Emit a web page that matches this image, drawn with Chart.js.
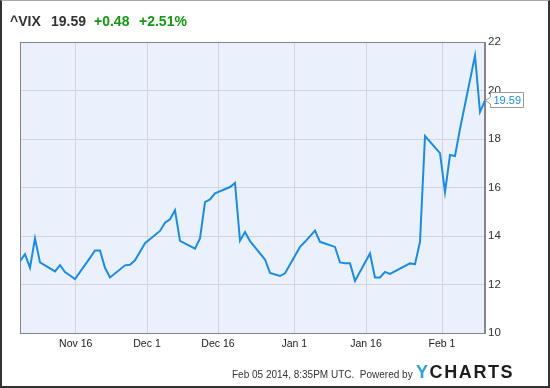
<!DOCTYPE html>
<html>
<head>
<meta charset="utf-8">
<script src="https://cdn.jsdelivr.net/npm/chart.js@4.4.1/dist/chart.umd.min.js"></script>
<style>
  html, body { margin: 0; padding: 0; background: #fff; }
  #wrap { position: relative; width: 550px; height: 388px; overflow: hidden; font-family: "Liberation Sans", Arial, sans-serif; }
  #chart { position: absolute; left: 0; top: 0; }
  #frame { position: absolute; left: 0; top: 0; width: 550px; height: 388px; box-sizing: border-box;
           border-left: 2px solid #333; border-right: 2px solid #333; border-bottom: 2px solid #333; border-top: 1px solid #a8a8a8; pointer-events: none; }
  .t { position: absolute; top: 13px; line-height: 16px; font-size: 14px; font-weight: bold; white-space: nowrap; }
  .dk { color: #333; }
  .gr { color: #139a13; }
  #foot { position: absolute; left: 232px; top: 369px; font-size: 10px; line-height: 12px; color: #333; white-space: nowrap; }
  #logo { position: absolute; left: 416px; top: 361px; font-size: 18px; line-height: 22px; font-weight: bold; letter-spacing: 1.6px; white-space: nowrap; }
  #logo .y { color: #2aa3e0; }
  #logo .c { color: #1e1e1e; }
</style>
</head>
<body>
<div id="wrap">
  <canvas id="chart" width="550" height="388"></canvas>
  <span class="t dk" style="left:10px">^VIX</span>
  <span class="t dk" style="left:51px">19.59</span>
  <span class="t gr" style="left:94px">+0.48</span>
  <span class="t gr" style="left:139px">+2.51%</span>
  <div id="foot">Feb 05 2014, 8:35PM UTC.&nbsp; Powered by</div>
  <div id="logo"><span class="y">Y</span><span class="c">CHARTS</span></div>
  <div id="frame"></div>
</div>
<script>
// ---- data ----
const dates = [
  "2013-11-04","2013-11-05","2013-11-06","2013-11-07","2013-11-08",
  "2013-11-11","2013-11-12","2013-11-13","2013-11-14","2013-11-15",
  "2013-11-18","2013-11-19","2013-11-20","2013-11-21","2013-11-22",
  "2013-11-25","2013-11-26","2013-11-27","2013-11-29",
  "2013-12-02","2013-12-03","2013-12-04","2013-12-05","2013-12-06",
  "2013-12-09","2013-12-10","2013-12-11","2013-12-12","2013-12-13",
  "2013-12-16","2013-12-17","2013-12-18","2013-12-19","2013-12-20",
  "2013-12-23","2013-12-24","2013-12-26","2013-12-27",
  "2013-12-30","2013-12-31","2014-01-02","2014-01-03",
  "2014-01-06","2014-01-07","2014-01-08","2014-01-09","2014-01-10",
  "2014-01-13","2014-01-14","2014-01-15","2014-01-16","2014-01-17",
  "2014-01-21","2014-01-22","2014-01-23","2014-01-24",
  "2014-01-27","2014-01-28","2014-01-29","2014-01-30","2014-01-31",
  "2014-02-03","2014-02-04","2014-02-05"
];
const vixValues = [
  12.96,13.25,12.69,13.90,12.91,
  12.54,12.80,12.51,12.37,12.22,
  13.10,13.40,13.40,12.69,12.29,
  12.79,12.81,13.00,13.70,
  14.21,14.55,14.69,15.06,13.80,
  13.48,13.90,15.40,15.51,15.76,
  16.02,16.19,13.80,14.16,13.79,
  13.03,12.48,12.35,12.46,
  13.55,13.76,14.22,13.76,
  13.55,12.91,12.88,12.88,12.15,
  13.28,12.29,12.29,12.52,12.44,
  12.87,12.84,13.76,18.12,
  17.42,15.81,17.34,17.30,18.41,
  21.44,19.11,19.59
];
// x tick labels and where they sit on the day axis (days after Nov 4, 2013)
const xTickLabels = ["Nov 16","Dec 1","Dec 16","Jan 1","Jan 16","Feb 1"];
const xTickDays   = [11.15, 25.4, 39.6, 54.85, 69.2, 84.4];
const yTicks = [10, 12, 14, 16, 18, 20, 22];
const lastLabel = "19.59";

// ---- build ----
const day0 = Date.UTC(2013, 10, 4);
function dayIndex(s) {
  const p = s.split("-").map(Number);
  return (Date.UTC(p[0], p[1] - 1, p[2]) - day0) / 86400000;
}
const points = dates.map((d, i) => ({ x: dayIndex(d), y: vixValues[i] }));
const FONT = '"Liberation Sans", Arial, sans-serif';
const LINE = '#1b8be5';

const plotBg = {
  id: 'plotBg',
  beforeDraw(chart) {
    const { ctx, chartArea: a } = chart;
    ctx.save();
    ctx.fillStyle = '#ebf1fc';
    ctx.fillRect(a.left, a.top, a.right - a.left, a.bottom - a.top);
    ctx.restore();
  },
  beforeDatasetsDraw(chart) {
    const { ctx, chartArea: a } = chart;
    ctx.save();
    ctx.strokeStyle = '#858585';
    ctx.lineWidth = 1;
    ctx.strokeRect(Math.round(a.left) + 0.5, Math.round(a.top) + 0.5, Math.round(a.right - a.left) - 1, Math.round(a.bottom - a.top));
    ctx.restore();
  }
};

const callout = {
  id: 'callout',
  afterDraw(chart) {
    const { ctx } = chart;
    const meta = chart.getDatasetMeta(0);
    const el = meta.data[meta.data.length - 1];
    const px = Math.round(el.x), py = Math.round(el.y);
    const l = px + 5.5, w = 33, h = 15, t = py - 7.5;
    ctx.save();
    ctx.beginPath();
    ctx.moveTo(l, t);
    ctx.lineTo(l + w, t);
    ctx.lineTo(l + w, t + h);
    ctx.lineTo(l, t + h);
    ctx.lineTo(l, py + 4);
    ctx.lineTo(px + 0.5, py + 0.5);
    ctx.lineTo(l, py - 3);
    ctx.closePath();
    ctx.fillStyle = '#fff';
    ctx.fill();
    ctx.strokeStyle = '#999';
    ctx.lineWidth = 1;
    ctx.stroke();
    ctx.fillStyle = LINE;
    ctx.font = '11px ' + FONT;
    ctx.textBaseline = 'middle';
    ctx.textAlign = 'left';
    ctx.fillText(lastLabel, l + 3, py + 1);
    ctx.restore();
  }
};

new Chart(document.getElementById('chart'), {
  type: 'line',
  data: {
    datasets: [{
      data: points,
      borderColor: LINE,
      borderWidth: 2,
      pointRadius: 0,
      tension: 0,
      fill: false
    }]
  },
  options: {
    responsive: false,
    animation: false,
    devicePixelRatio: 1,
    layout: { padding: { left: 20, top: 42, right: 0, bottom: 0 } },
    plugins: { legend: { display: false }, tooltip: { enabled: false } },
    scales: {
      x: {
        type: 'linear',
        min: 0,
        max: dayIndex(dates[dates.length - 1]),
        afterBuildTicks(s) { s.ticks = xTickDays.map(v => ({ value: v })); },
        afterFit(s) { s.height = 55; },
        grid: { color: '#d3d5da', drawTicks: false },
        border: { color: '#858585' },
        ticks: {
          autoSkip: false, maxRotation: 0, padding: 5,
          color: '#222', font: { family: FONT, size: 10.5 },
          callback: (v, i) => xTickLabels[i]
        }
      },
      y: {
        position: 'right',
        min: 10, max: 22,
        afterBuildTicks(s) { s.ticks = yTicks.map(v => ({ value: v })); },
        afterFit(s) { s.width = 65; },
        grid: { color: '#d3d5da', drawTicks: false },
        border: { color: '#858585' },
        ticks: {
          padding: 3, color: '#333', font: { family: FONT, size: 11.5 },
          callback: v => String(v)
        }
      }
    }
  },
  plugins: [plotBg, callout]
});
</script>
</body>
</html>
